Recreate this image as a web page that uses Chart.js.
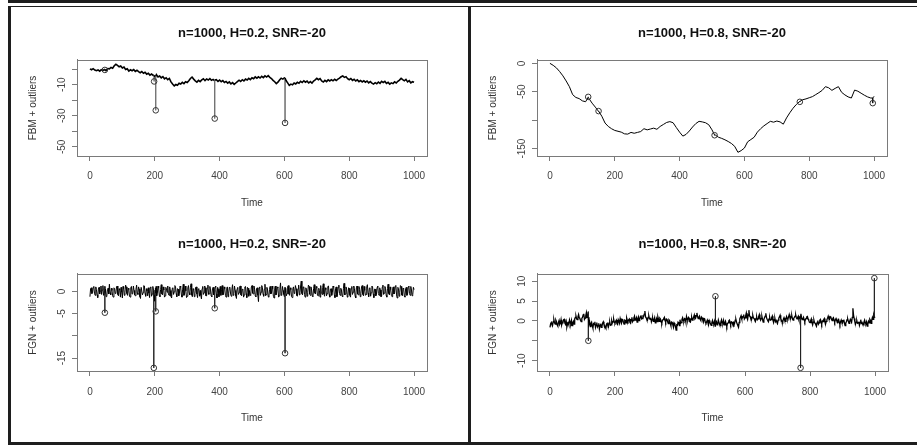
<!DOCTYPE html>
<html>
<head>
<meta charset="utf-8">
<script src="https://cdn.jsdelivr.net/npm/chart.js@4/dist/chart.umd.min.js"></script>
<style>
  body { margin: 0; background: #fff; }
  #page { position: relative; width: 917px; height: 445px; background: #fff; overflow: hidden; }
  .rule { position: absolute; background: #1e1e1e; }
  canvas { position: absolute; }
</style>
</head>
<body>
<div id="page">
  <div class="rule" style="left:8px;top:0;width:909px;height:3px"></div>
  <div class="rule" style="left:8px;top:6px;width:909px;height:1px"></div>
  <div class="rule" style="left:8px;top:6px;width:3px;height:439px"></div>
  <div class="rule" style="left:468px;top:6px;width:3px;height:437px"></div>
  <div class="rule" style="left:8px;top:442px;width:909px;height:3px"></div>
  <canvas id="fbm02"></canvas>
  <canvas id="fbm08"></canvas>
  <canvas id="fgn02"></canvas>
  <canvas id="fgn08"></canvas>
</div>
<script>
const timeTicks = [0, 200, 400, 600, 800, 1000];

// FBM + outliers, H=0.2 (one value every 5 time steps, t = 0..1000)
const fbm02Step = 5;
const fbm02Values = [
  0.2, -0.4, 0.3, -0.6, -1.0, -0.5, -1.3, -0.4, -0.8, -0.2,
  -0.9, 0.4, 0.2, 1.1, 0.6, 2.2, 3.1, 2.4, 1.5, 2.0,
  0.8, 1.4, -0.2, 0.3, -1.2, -0.4, -1.0, -0.3, -1.4, -0.7,
  -1.6, -2.3, -1.5, -2.6, -2.0, -3.2, -2.6, -3.8, -3.1, -4.0,
  -4.6, -3.5, -5.0, -4.4, -5.6, -4.8, -6.2, -5.5, -6.8, -6.0,
  -8.2, -9.6, -10.8, -9.9, -10.4, -9.1, -9.6, -8.5, -9.3, -8.1,
  -8.6, -7.4, -6.0, -5.1, -6.4, -7.5, -8.3, -7.2, -8.0, -6.9,
  -6.2, -7.4, -6.3, -7.0, -6.1, -7.2, -6.6, -7.5, -6.8, -7.9,
  -7.0, -8.1, -7.4, -8.6, -7.9, -9.0, -8.2, -9.5, -8.7, -9.8,
  -8.9, -8.0, -7.1, -7.9, -6.8, -7.6, -6.4, -7.0, -5.9, -6.7,
  -5.5, -6.1, -5.0, -5.8, -4.9, -5.7, -4.6, -5.4, -4.3, -5.1,
  -4.2, -5.3, -6.0, -7.2, -8.1, -9.3, -8.4, -7.0, -5.8, -6.4,
  -5.6, -7.3, -8.8, -10.4, -9.6, -10.1, -8.9, -9.5, -8.4, -9.1,
  -7.8, -8.6, -7.5, -8.4, -7.7, -8.9, -8.0, -9.0, -7.6, -6.9,
  -5.9, -6.8, -6.1, -7.6, -8.3, -7.2, -8.0, -6.9, -7.6, -6.8,
  -7.5, -6.5, -7.3, -6.4, -5.8, -4.9, -4.4, -5.3, -4.8, -6.1,
  -6.8, -6.0, -7.2, -6.5, -7.6, -6.9, -8.0, -7.3, -8.2, -7.5,
  -8.4, -7.6, -8.8, -8.0, -9.0, -9.6, -8.7, -9.4, -8.3, -9.1,
  -7.8, -8.6, -7.9, -9.2, -8.5, -9.6, -8.8, -9.3, -8.2, -8.9,
  -7.8, -7.0, -5.9, -6.8, -7.5, -6.6, -8.2, -7.4, -8.8, -8.1,
  -8.5
];
const fbm02OutTimes = [46, 198, 203, 385, 602];
const fbm02OutValues = [-0.5, -7.9, -26.5, -31.8, -34.6];
const fbm02OutBase = [-0.4, -4.0, -4.6, -7.0, -5.8];
const fbm02Ticks = [0, -10, -20, -30, -40, -50];
const fbm02TickLabels = ['', '-10', '', '-30', '', '-50'];

// FBM + outliers, H=0.8 (one value every 10 time steps)
const fbm08Step = 10;
const fbm08Values = [
  0, -3.5, -8, -14.5, -22, -31, -41, -55, -60, -62,
  -66, -67.5, -60, -70, -77, -84.5, -93, -105, -111, -115,
  -118, -119.5, -121, -124, -124.5, -121.5, -123, -121.5, -120, -115,
  -117, -115.5, -114, -116, -111, -107.5, -104, -102.5, -104.5, -113,
  -121, -128, -125, -119, -112, -106, -102, -103, -104.5, -108,
  -117, -126, -130, -132, -134.5, -137.5, -141, -146, -156.5, -153.5,
  -149, -138, -134, -130, -121, -115, -110, -106, -102, -103.5,
  -101.5, -103, -107, -96, -87, -79, -72.5, -67.5, -64, -62.5,
  -60.5, -58.5, -55, -51.5, -47.5, -41, -43, -47.5, -44, -41,
  -51, -55.5, -59, -61, -47, -49, -52.5, -56, -59, -61,
  -58
];
const fbm08OutTimes = [118, 150, 508, 771, 996];
const fbm08OutValues = [-59, -84, -126.5, -67.7, -70];
const fbm08OutBase = [-60, -84, -126, -67, -61];
const fbm08Ticks = [0, -50, -100, -150];
const fbm08TickLabels = ['0', '-50', '', '-150'];

// FGN + outliers, H=0.2 (one value every 2 time steps)
const fgn02Step = 2;
const fgn02Values = [
  -1.2, 0.6, 0.8, -0.5, -0.3, 0.9, 1.1, -0.4, -0.9, 1.0, 0.4, -0.8, -1.4, 0.5, 0.9, -0.6, 0.1, 1.2, -0.7, 0.3,
  1.3, -0.9, -0.6, 1.1, 0.5, -1.2, -1.1, 0.4, 0.7, -0.6, 1.6, -0.3, -0.8, 0.7, 0.2, -1.0, -1.3, 0.8, 0.6, -0.5,
  -0.4, 1.0, 1.2, -0.7, -1.0, 0.6, 0.3, -1.3, 0.9, -0.2, -1.5, 1.1, 0.6, -0.9, -0.2, 1.4, 1.0, -0.5, -0.9, 0.7,
  0.4, -1.1, -1.3, 0.8, 1.1, -0.6, -0.5, 1.2, 0.2, -0.8, -1.0, 0.5, 1.4, -0.4, -0.7, 1.0, 0.5, -1.2, -1.6, 0.9,
  0.9, -0.8, -0.3, 1.3, 1.2, -0.5, -1.1, 0.6, 0.1, -1.0, 0.8, -0.4, -1.4, 0.9, 1.0, -1.1, -0.6, 1.1, 0.3, -0.9,
  -2.2, 0.7, 1.1, -1.0, -0.4, 1.2, 0.7, -0.9, -1.2, 0.4, 1.5, -0.6, -0.8, 1.0, 0.3, -1.3, -1.0, 0.9, 0.6, -0.2,
  1.2, -0.6, -0.9, 1.0, 0.2, -1.1, -1.5, 0.7, 0.8, -0.7, -0.1, 1.3, 1.1, -0.5, -1.2, 0.6, 0.5, -1.0, -0.4, 1.2,
  0.9, -0.7, -1.3, 0.5, 1.6, -0.9, -0.6, 1.2, 0.1, -1.4, -1.1, 0.8, 1.3, -0.3, -0.8, 0.9, 1.7, -0.8, -1.2, 0.6,
  0.4, -1.2, -0.5, 0.9, 1.0, -0.6, -1.4, 0.5, 0.6, -1.1, 0.2, -0.9, -1.7, 0.6, 1.1, -0.7, -0.3, 1.2, 0.8, -1.0,
  -1.0, 0.8, 1.4, -0.7, -0.6, 1.1, 0.3, -1.0, -1.2, 0.6, 0.9, -0.8, -0.2, 1.0, 1.2, -0.6, -1.5, 0.9, 0.5, -1.2,
  0.1, 1.1, -0.9, 0.4, 1.3, -0.8, -0.7, 1.0, 0.6, -0.9, -1.3, 0.7, 1.0, -1.2, -0.4, 0.9, 0.8, -0.6, -1.1, 0.5,
  1.5, -0.9, -0.5, 1.2, 0.2, -1.0, -1.6, 0.6, 0.9, -0.7, -0.3, 1.1, 1.2, -0.8, -1.0, 0.5, 0.4, -1.3, -0.8, 1.0,
  1.1, -0.5, -1.4, 0.9, 0.7, -1.1, 0.2, -0.8, -0.9, 1.0, 1.3, -0.4, -0.6, 1.2, 0.5, -1.0, -1.2, 0.6, 0.8, -0.9,
  -2.3, 0.8, 1.0, -0.9, -0.2, 1.3, 0.9, -0.6, -1.1, 0.5, 1.6, -1.0, -0.7, 0.9, 0.3, -1.2, -1.3, 0.4, 1.1, -0.6,
  -0.4, 1.2, 0.6, -1.1, -1.5, 0.7, 1.2, -0.8, -0.3, 1.0, 0.8, -1.3, -1.0, 0.5, 1.9, -0.9, -0.6, 1.1, 0.2, -0.7,
  -1.2, 0.9, 0.7, -1.0, -0.5, 1.1, 1.3, -0.6, -0.9, 0.8, 0.4, -1.2, -1.4, 0.6, 1.0, -0.5, -0.1, 1.3, 0.6, -0.9,
  -1.1, 0.6, 1.4, -0.8, -0.3, 1.2, 2.3, -0.5, -0.8, 1.0, 0.9, -0.7, -1.3, 0.8, 0.5, -1.1, -0.2, 1.4, 1.1, -0.6,
  -0.9, 1.0, 0.3, -1.1, -1.2, 0.6, 1.5, -0.4, -0.6, 1.1, 0.8, -0.9, -1.0, 0.7, 0.2, -1.3, 1.3, -0.5, -0.7, 0.9,
  1.7, -0.6, -1.1, 0.8, 0.4, -1.0, -0.5, 1.1, 1.2, -0.7, -1.3, 0.5, 0.6, -0.9, -0.2, 1.2, 0.9, -0.8, -1.4, 0.7,
  1.0, -1.2, -0.4, 0.9, 1.4, -0.5, -0.9, 0.7, 0.3, -1.1, -1.2, 0.6, 1.8, -0.8, -0.6, 1.0, 0.5, -1.3, -1.0, 0.8,
  0.7, -0.9, -1.3, 0.6, 1.1, -0.7, -0.2, 1.2, 0.6, -1.0, -1.5, 0.8, 1.2, -0.6, -0.8, 1.1, 0.4, -1.2, -0.5, 1.0,
  1.3, -0.7, -1.0, 1.1, 0.2, -0.9, -0.7, 1.0, 1.5, -0.4, -1.2, 0.7, 0.8, -1.1, -0.3, 1.2, 1.0, -0.6, -1.4, 0.5,
  0.5, -1.0, -0.6, 0.9, 1.2, -0.5, -0.9, 0.8, 0.3, -1.2, -1.1, 1.0, 1.4, -0.7, -0.4, 1.1, 0.7, -0.9, -1.3, 0.6,
  1.6, -0.5, -0.8, 1.0, 0.4, -0.9, -1.2, 0.7, 1.0, -0.6, -0.3, 1.2, 1.3, -0.8, -1.5, 0.9, 0.6, -1.1, -0.2, 1.3,
  1.1, -0.8, -1.0, 0.7, 0.5, -1.1, -1.3, 0.6, 0.9, -0.9, -0.6, 1.0, 1.2, -0.5, -0.9, 1.1, 0.3, -1.0, -0.7, 0.9,
  0.4
];
const fgn02OutTimes = [46, 197, 203, 385, 602];
const fgn02OutValues = [-4.8, -17.2, -4.5, -3.8, -13.9];
const fgn02OutBase = [-0.3, 0.2, -0.4, 0.3, -0.2];
const fgn02Ticks = [0, -5, -10, -15];
const fgn02TickLabels = ['0', '-5', '', '-15'];

// FGN + outliers, H=0.8 (one value every 2 time steps)
const fgn08Step = 2;
const fgn08Values = [
  -1.6, -0.7, -0.4, -0.9, -1.1, -0.2, 0.3, -0.5, -0.8, 0.2, -0.2, -1.0, -1.3, -0.4, 0.1, -0.9, -0.6, 0.3, -1.0, -0.5,
  -0.3, 0.3, 0.4, -0.6, -0.9, -0.2, -1.5, -0.8, -0.5, -1.0, 0.2, -0.4, -0.7, 0.1, -1.2, -0.5, -0.1, -0.8, 0.5, 0.9,
  1.2, 0.5, 0.3, 1.0, 1.6, 0.8, 0.6, 0.1, -0.2, 0.6, 0.9, 1.5, 1.8, 0.4, 0.7, 1.3, 2.1, 0.9, 1.2, 2.3,
  -0.8, -0.3, -1.4, -0.6, -0.3, -1.2, -1.8, -0.7, -0.9, -0.2, -1.6, -1.0, -0.4, -1.5, -1.2, -0.6, -2.0, -1.1, -0.7, -1.6,
  -1.3, -0.5, -0.2, -0.9, -1.1, -1.6, -1.9, -0.8, -0.6, -1.2, -1.4, -0.5, -0.3, -1.1, -1.0, 0.1, -0.5, -0.2, 0.4, -0.4,
  -0.6, -0.1, 0.2, -0.7, -0.9, 0.3, -0.1, -0.6, 0.6, 0.0, -0.5, 0.4, 0.3, -0.4, -0.8, 0.2, 0.1, -0.5, 0.7, 0.1,
  -0.2, 0.3, 0.5, -0.4, -0.6, 0.4, 0.9, -0.2, 0.1, 0.7, 1.2, 0.2, 0.3, 0.8, -0.3, 0.5, 1.0, 0.1, 0.4, 1.1,
  1.4, 0.5, 0.6, 1.2, 1.1, 1.7, 2.5, 1.0, 0.8, 0.3, 0.2, 0.9, 1.3, 0.6, 0.4, 0.8, -0.2, 0.4, 0.7, -0.1,
  0.2, 0.8, -0.5, 0.1, 0.6, -0.2, 1.0, 0.4, -0.1, 0.7, 0.5, -0.3, -0.6, 0.2, 0.3, 0.6, 0.9, 0.1, -0.3, 0.5,
  0.4, -0.2, -0.7, 0.3, 0.1, -0.6, -1.2, -0.3, -0.4, -1.0, -1.6, -0.5, -0.8, -1.4, -2.3, -1.0, -1.1, -0.3, -0.5, -1.2,
  0.3, -0.6, -0.4, 0.4, 0.8, 0.1, -0.1, 0.6, 0.5, -0.3, 1.1, 0.4, 0.2, 0.9, 0.7, -0.2, -0.3, 0.5, 0.9, 0.2,
  0.4, 1.0, 1.5, 0.5, 0.7, 1.3, 2.0, 1.1, 0.6, 0.9, 1.2, 0.4, 0.1, 1.0, 0.8, 0.2, -0.2, 0.6, 0.5, -0.4,
  -0.6, -0.2, 0.2, -0.5, -0.9, 0.1, -0.3, -0.8, -1.1, -0.4, 0.1, -0.6, -0.7, -0.1, -1.3, -0.5, -0.2, -1.0, -0.8, 0.2,
  -0.4, -0.9, -1.2, -0.2, 0.3, -0.5, -0.6, 0.1, -1.0, -0.5, -0.1, -0.9, -1.4, -0.6, -0.5, 0.0, 0.2, -0.4, -0.9, -0.2,
  -0.3, -0.8, -1.3, -0.4, -0.6, 0.2, 0.4, -0.3, -0.8, -1.2, -1.6, -0.4, 0.5, 0.9, 1.3, 0.6, 0.7, 1.1, 1.6, 0.5,
  0.8, 1.3, 2.0, 0.9, 0.4, 1.5, 2.7, 1.2, 1.1, 0.5, 0.3, 0.9, 1.4, 0.7, 0.6, 0.2, -0.1, 0.6, 1.0, 0.3,
  0.5, 1.1, 1.6, 0.7, 0.2, 0.6, 1.1, 0.3, -0.3, 0.4, 0.8, 1.2, 1.9, 0.9, 0.4, 0.1, -0.2, 0.5, 0.9, 0.2,
  0.3, 0.8, 1.2, 0.2, -0.4, 0.3, 0.6, -0.2, 0.1, -0.3, -0.6, 0.2, 0.7, 1.0, 1.4, 0.6, 0.2, -0.1, -0.3, 0.4,
  0.8, 0.2, -0.1, 0.6, 1.1, 0.5, 0.4, 1.0, 1.6, 0.9, 0.6, 1.1, 1.3, 0.5, 0.2, 0.7, 0.9, 1.2, 1.5, 0.8,
  0.5, 0.9, 1.2, 0.4, 0.7, 1.1, 1.8, 0.8, 0.3, 0.5, 0.9, 0.3, -0.2, 0.4, 0.6, 1.0, 1.1, 0.5, 0.2, -0.3,
  -0.4, 0.1, 0.5, -0.4, -1.0, -0.3, 0.2, -0.5, -0.6, -1.0, -1.3, -0.4, 0.1, -0.8, -0.5, 0.2, 0.4, -0.3, -0.8, 0.0,
  -0.2, 0.3, 0.6, -0.2, -0.7, -0.1, 0.3, 0.7, 1.2, 0.6, 0.5, 1.1, 1.0, 0.4, 0.1, 0.6, 0.8, 0.2, -0.3, 0.3,
  0.6, 0.1, -0.4, 0.2, 0.4, -0.3, -0.9, -0.2, 0.2, -0.4, -0.5, 0.1, 0.3, -0.6, -1.2, -0.5, -0.2, 0.3, 0.5, -0.1,
  -0.6, -0.1, 0.4, 0.0, -0.3, 0.9, 3.2, 1.4, 0.6, -0.2, -0.8, -0.3, 0.1, -0.6, -0.5, -0.2, -1.1, -0.4, 0.3, -0.6,
  -0.4, -0.8, -1.0, -0.3, 0.2, -0.5, -0.7, -0.2, -1.3, -0.7, -0.1, -0.5, 0.4, 0.1, -0.6, 0.2, 0.9, 0.4, 1.5, 1.0,
  0.8
];
const fgn08OutTimes = [118, 509, 771, 998];
const fgn08OutValues = [-5.0, 6.2, -11.8, 10.75];
const fgn08OutBase = [0.9, -0.4, 0.6, 1.0];
const fgn08Ticks = [10, 5, 0, -5, -10];
const fgn08TickLabels = ['10', '5', '0', '', '-10'];

const FONT = "'Liberation Sans', Arial, Helvetica, sans-serif";

// series values on their time grid; each outlier is a spike from the
// series level straight out to the outlier value and back
function seriesPoints(step, values, outTimes, outValues, outBase) {
  const pts = values.map((v, i) => ({x: i * step, y: v}));
  outTimes.forEach((t, i) => {
    pts.push({x: t, y: outBase[i]}, {x: t, y: outValues[i]}, {x: t, y: outBase[i]});
  });
  pts.sort((a, b) => a.x - b.x);
  return pts;
}

function outlierPoints(outTimes, outValues) {
  return outTimes.map((t, i) => ({x: t, y: outValues[i]}));
}

// R draws a full box round the plot region
const plotBox = {
  id: 'plotBox',
  afterDraw(chart) {
    const a = chart.chartArea;
    const ctx = chart.ctx;
    ctx.save();
    ctx.strokeStyle = '#7a7a7a';
    ctx.lineWidth = 1;
    ctx.strokeRect(a.left + 0.5, a.top + 0.5, a.right - a.left, a.bottom - a.top);
    ctx.restore();
  }
};

const panels = [
  {
    id: 'fbm02', title: 'n=1000, H=0.2, SNR=-20', yTitle: 'FBM + outliers',
    step: fbm02Step, values: fbm02Values,
    outTimes: fbm02OutTimes, outValues: fbm02OutValues, outBase: fbm02OutBase,
    ticks: fbm02Ticks, tickLabels: fbm02TickLabels, yMin: -55.9, yMax: 5.9,
    lineWidth: 1.6, spikeColor: '#6e6e6e',
    canvas: {left: 11, top: 8, width: 456, height: 214},
    area: {left: 77, right: 427, top: 60, bottom: 156},
    titleY: 33, tickY: 176.5, timeY: 203, yTitleX: 33, yTickPad: 2.8
  },
  {
    id: 'fbm08', title: 'n=1000, H=0.8, SNR=-20', yTitle: 'FBM + outliers',
    step: fbm08Step, values: fbm08Values,
    outTimes: fbm08OutTimes, outValues: fbm08OutValues, outBase: fbm08OutBase,
    ticks: fbm08Ticks, tickLabels: fbm08TickLabels, yMin: -163, yMax: 5.9,
    lineWidth: 1, spikeColor: '#000',
    canvas: {left: 472, top: 8, width: 445, height: 214},
    area: {left: 537, right: 887, top: 60, bottom: 156},
    titleY: 33, tickY: 176.5, timeY: 203, yTitleX: 493, yTickPad: 0
  },
  {
    id: 'fgn02', title: 'n=1000, H=0.2, SNR=-20', yTitle: 'FGN + outliers',
    step: fgn02Step, values: fgn02Values,
    outTimes: fgn02OutTimes, outValues: fgn02OutValues, outBase: fgn02OutBase,
    ticks: fgn02Ticks, tickLabels: fgn02TickLabels, yMin: -17.9, yMax: 3.9,
    lineWidth: 1, spikeColor: '#222',
    canvas: {left: 11, top: 222, width: 456, height: 218},
    area: {left: 77, right: 427, top: 274, bottom: 371},
    titleY: 244, tickY: 392, timeY: 418, yTitleX: 33, yTickPad: 2.8
  },
  {
    id: 'fgn08', title: 'n=1000, H=0.8, SNR=-20', yTitle: 'FGN + outliers',
    step: fgn08Step, values: fgn08Values,
    outTimes: fgn08OutTimes, outValues: fgn08OutValues, outBase: fgn08OutBase,
    ticks: fgn08Ticks, tickLabels: fgn08TickLabels, yMin: -12.6, yMax: 11.8,
    lineWidth: 1.3, spikeColor: '#222',
    canvas: {left: 472, top: 222, width: 445, height: 218},
    area: {left: 537, right: 888, top: 274, bottom: 371},
    titleY: 244, tickY: 392, timeY: 418, yTitleX: 493, yTickPad: 2.8
  }
];

function makeChart(p) {
  const cv = p.canvas;
  const el = document.getElementById(p.id);
  el.width = cv.width;
  el.height = cv.height;
  el.style.left = cv.left + 'px';
  el.style.top = cv.top + 'px';

  const titleLine = 13 * 1.2;
  const titlePadTop = p.titleY - cv.top - titleLine / 2;
  const titlePadBottom = p.area.top - cv.top - titlePadTop - titleLine;
  const yAxisWidth = p.area.left - cv.left;
  const xAxisHeight = cv.top + cv.height - p.area.bottom;

  new Chart(el, {
    type: 'line',
    data: {
      datasets: [
        {
          type: 'scatter',
          data: outlierPoints(p.outTimes, p.outValues),
          showLine: false,
          pointStyle: 'circle',
          pointRadius: 2.8,
          borderWidth: 1,
          borderColor: '#333',
          backgroundColor: 'rgba(0,0,0,0)'
        },
        {
          data: seriesPoints(p.step, p.values, p.outTimes, p.outValues, p.outBase),
          borderColor: '#000',
          borderWidth: p.lineWidth,
          pointRadius: 0,
          tension: 0,
          fill: false,
          segment: {
            // the outlier spikes are thin single-step strokes
            borderColor: ctx => ctx.p0.parsed.x === ctx.p1.parsed.x ? p.spikeColor : undefined,
            borderWidth: ctx => ctx.p0.parsed.x === ctx.p1.parsed.x ? 1 : undefined
          }
        }
      ]
    },
    options: {
      responsive: false,
      animation: false,
      events: [],
      layout: {padding: {left: 0, top: 0, bottom: 0, right: cv.left + cv.width - p.area.right}},
      plugins: {
        legend: {display: false},
        tooltip: {enabled: false},
        title: {
          display: true,
          text: p.title,
          fullSize: false,
          color: '#111',
          font: {family: FONT, size: 13, weight: 'bold'},
          padding: {top: titlePadTop, bottom: titlePadBottom}
        }
      },
      scales: {
        x: {
          type: 'linear',
          min: -39.96,
          max: 1039.96,
          afterBuildTicks: s => { s.ticks = timeTicks.map(v => ({value: v})); },
          afterFit: s => { s.height = xAxisHeight; },
          grid: {drawOnChartArea: false, drawTicks: true, tickLength: 5, color: '#7a7a7a'},
          border: {display: true, color: '#7a7a7a'},
          ticks: {
            color: '#444',
            font: {family: FONT, size: 10},
            padding: p.tickY - p.area.bottom - 5 - 6,
            maxRotation: 0,
            callback: v => String(v)
          },
          title: {
            display: true,
            text: 'Time',
            color: '#333',
            font: {family: FONT, size: 10},
            padding: {top: 0, bottom: cv.top + cv.height - p.timeY - 6}
          }
        },
        y: {
          type: 'linear',
          min: p.yMin,
          max: p.yMax,
          afterBuildTicks: s => { s.ticks = p.ticks.map(v => ({value: v})); },
          afterFit: s => { s.width = yAxisWidth; },
          grid: {drawOnChartArea: false, drawTicks: true, tickLength: 5, color: '#7a7a7a'},
          border: {display: true, color: '#7a7a7a'},
          ticks: {
            color: '#444',
            font: {family: FONT, size: 10},
            padding: p.yTickPad,
            minRotation: 90,
            maxRotation: 90,
            crossAlign: 'center',
            callback: v => p.tickLabels[p.ticks.indexOf(v)]
          },
          title: {
            display: true,
            text: p.yTitle,
            color: '#333',
            font: {family: FONT, size: 10},
            padding: {top: p.yTitleX - cv.left - 6, bottom: 0}
          }
        }
      }
    },
    plugins: [plotBox]
  });
}

panels.forEach(makeChart);
</script>
</body>
</html>
